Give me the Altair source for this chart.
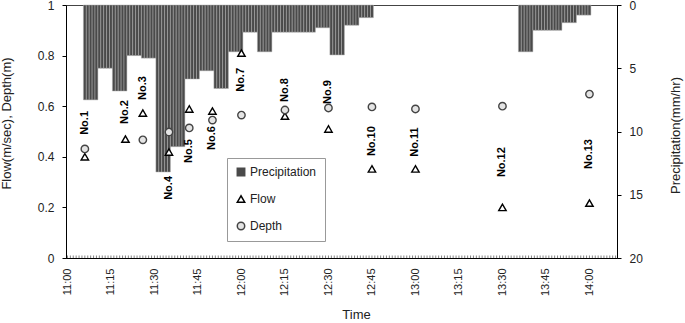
import altair as alt
import pandas as pd

# ---------------- data ----------------
point_labels = ["No.1", "No.2", "No.3", "No.4", "No.5", "No.6", "No.7",
                "No.8", "No.9", "No.10", "No.11", "No.12", "No.13"]
point_times = ["11:06", "11:20", "11:26", "11:35", "11:42", "11:50", "12:00",
               "12:15", "12:30", "12:45", "13:00", "13:30", "14:00"]
flow_values = [0.40, 0.47, 0.573, 0.419, 0.589, 0.581, 0.81,
               0.561, 0.51, 0.352, 0.352, 0.20, 0.217]
depth_values = [0.431, None, 0.467, 0.498, 0.514, 0.545, 0.565,
                0.585, 0.593, 0.597, 0.589, 0.60, 0.648]
label_heights = [0.534, 0.577, 0.672, 0.277, 0.423, 0.474, 0.704,
                 0.664, 0.656, 0.462, 0.458, 0.379, 0.411]

# precipitation, 5-minute blocks (block end time, mm/hr)
precip_block_end = ["11:10", "11:15", "11:20", "11:25", "11:30", "11:35", "11:40",
                    "11:45", "11:50", "11:55", "12:00", "12:05", "12:10", "12:15",
                    "12:20", "12:25", "12:30", "12:35", "12:40", "12:45",
                    "13:40", "13:45", "13:50", "13:55", "14:00"]
precip_values = [7.5, 5.0, 6.8, 4.0, 4.2, 13.2, 11.2,
                 5.85, 5.2, 6.6, 3.7, 2.15, 3.7, 2.15,
                 2.15, 2.15, 1.8, 3.95, 1.6, 1.0,
                 3.7, 2.0, 2.0, 1.4, 0.8]

x_tick_labels = ["11:00", "11:15", "11:30", "11:45", "12:00", "12:15", "12:30",
                 "12:45", "13:00", "13:15", "13:30", "13:45", "14:00"]

series_names = ["Precipitation", "Flow", "Depth"]

# ---------------- tables ----------------
def ts(hm):
    return pd.Timestamp("2000-01-01 " + hm + ":00")

bar_rows = []
for end, v in zip(precip_block_end, precip_values):
    t_end = ts(end)
    for k in range(4, -1, -1):
        t = t_end - pd.Timedelta(minutes=k)
        bar_rows.append({"start": t - pd.Timedelta(seconds=30),
                         "end": t + pd.Timedelta(seconds=30),
                         "precip": v, "series": "Precipitation"})
bars_df = pd.DataFrame(bar_rows)

pt_rows = []
for lab, t, f, d in zip(point_labels, point_times, flow_values, depth_values):
    pt_rows.append({"time": ts(t), "value": f, "series": "Flow", "label": lab})
    if d is not None:
        pt_rows.append({"time": ts(t), "value": d, "series": "Depth", "label": lab})
pts_df = pd.DataFrame(pt_rows)

lab_df = pd.DataFrame({"time": [ts(t) for t in point_times],
                       "h": label_heights, "label": point_labels})

minute_df = pd.DataFrame({"time": pd.date_range(ts("11:00"), ts("14:09"), freq="1min")})

# ---------------- scales ----------------
def dt(h, m, s=0):
    return alt.DateTime(year=2000, month=1, date=1, hours=h, minutes=m, seconds=s)

x_scale = alt.Scale(domain=[dt(10, 59, 30), dt(14, 9, 30)])
tick_values = [dt(int(l.split(":")[0]), int(l.split(":")[1])) for l in x_tick_labels]

FONT = "Liberation Sans"
PLOT_W, PLOT_H = 551, 253

legend = alt.Legend(title=None, orient="none", legendX=161, legendY=153,
                    padding=8, rowPadding=13, labelFontSize=12, labelFont=FONT,
                    labelColor="#222", strokeColor="#999", fillColor="white",
                    symbolSize=55, symbolStrokeWidth=1.5, labelOffset=3)

shape_scale = alt.Scale(domain=series_names, range=["square", "triangle-up", "circle"])
fill_scale = alt.Scale(domain=series_names, range=["#4a4a4a", "white", "#e4e4e4"])
stroke_scale = alt.Scale(domain=series_names, range=["#4a4a4a", "black", "#444444"])

x_axis = alt.Axis(values=tick_values, format="%H:%M", labelAngle=270,
                  labelAlign="right", labelBaseline="middle", labelPadding=10,
                  labelFont=FONT, labelFontSize=11, labelColor="#222",
                  ticks=False, domainColor="black", grid=False,
                  title="Time", titleFont=FONT, titleFontSize=13,
                  titleFontWeight="normal", titleColor="#222",
                  titleX=290, titleY=56, titleAlign="center", titleBaseline="middle")

bars = alt.Chart(bars_df).mark_rect(stroke="#b0b0b0", strokeWidth=0.5).encode(
    x=alt.X("start:T", scale=x_scale, axis=x_axis),
    x2="end:T",
    y=alt.Y("precip:Q",
            scale=alt.Scale(domain=[0, 20], reverse=True, nice=False),
            axis=alt.Axis(orient="right", values=[0, 5, 10, 15, 20], tickSize=4,
                          labelPadding=8, labelFont=FONT, labelFontSize=12,
                          labelColor="#222", domainColor="black", tickColor="black",
                          grid=False, title="Precipitation(mm/hr)", titleAngle=270,
                          titleFont=FONT, titleFontSize=13, titleFontWeight="normal",
                          titleColor="#222", titlePadding=40, titleY=130)),
    y2=alt.datum(0),
    fill=alt.Fill("series:N", scale=fill_scale, legend=legend),
)

minor_ticks = alt.Chart(minute_df).mark_rule(color="#333", strokeWidth=0.6).encode(
    x=alt.X("time:T", scale=x_scale),
    y=alt.value(PLOT_H - 2.5),
    y2=alt.value(PLOT_H),
)

points = alt.Chart(pts_df).mark_point(size=55, strokeWidth=1.4, opacity=1).encode(
    x=alt.X("time:T", scale=x_scale),
    y=alt.Y("value:Q",
            scale=alt.Scale(domain=[0, 1], nice=False),
            axis=alt.Axis(orient="left", values=[0, 0.2, 0.4, 0.6, 0.8, 1],
                          format="~g", tickSize=4, labelPadding=8, labelFont=FONT,
                          labelFontSize=12, labelColor="#222",
                          domainColor="black", tickColor="black", grid=False,
                          title="Flow(m/sec), Depth(m)", titleFont=FONT,
                          titleFontSize=13, titleFontWeight="normal",
                          titleColor="#222", titlePadding=24, titleY=118)),
    shape=alt.Shape("series:N", scale=shape_scale, legend=legend),
    fill=alt.Fill("series:N", scale=fill_scale, legend=legend),
    stroke=alt.Stroke("series:N", scale=stroke_scale, legend=legend),
)

labels = alt.Chart(lab_df).mark_text(angle=270, align="center", baseline="middle",
                                     font=FONT, fontSize=11, fontWeight="bold",
                                     color="black").encode(
    x=alt.X("time:T", scale=x_scale),
    y=alt.Y("h:Q", scale=alt.Scale(domain=[0, 1], nice=False), axis=None),
    text="label:N",
)

chart = alt.layer(bars, minor_ticks, points, labels).resolve_scale(
    y="independent"
).properties(
    width=PLOT_W, height=PLOT_H,
    autosize=alt.AutoSizeParams(type="none"),
    padding={"left": 66, "top": 5, "right": 68, "bottom": 65},
    background="white",
).configure_view(stroke="#444", strokeWidth=1)

chart.save("out.html", embed_options={"renderer": "svg", "actions": False})
